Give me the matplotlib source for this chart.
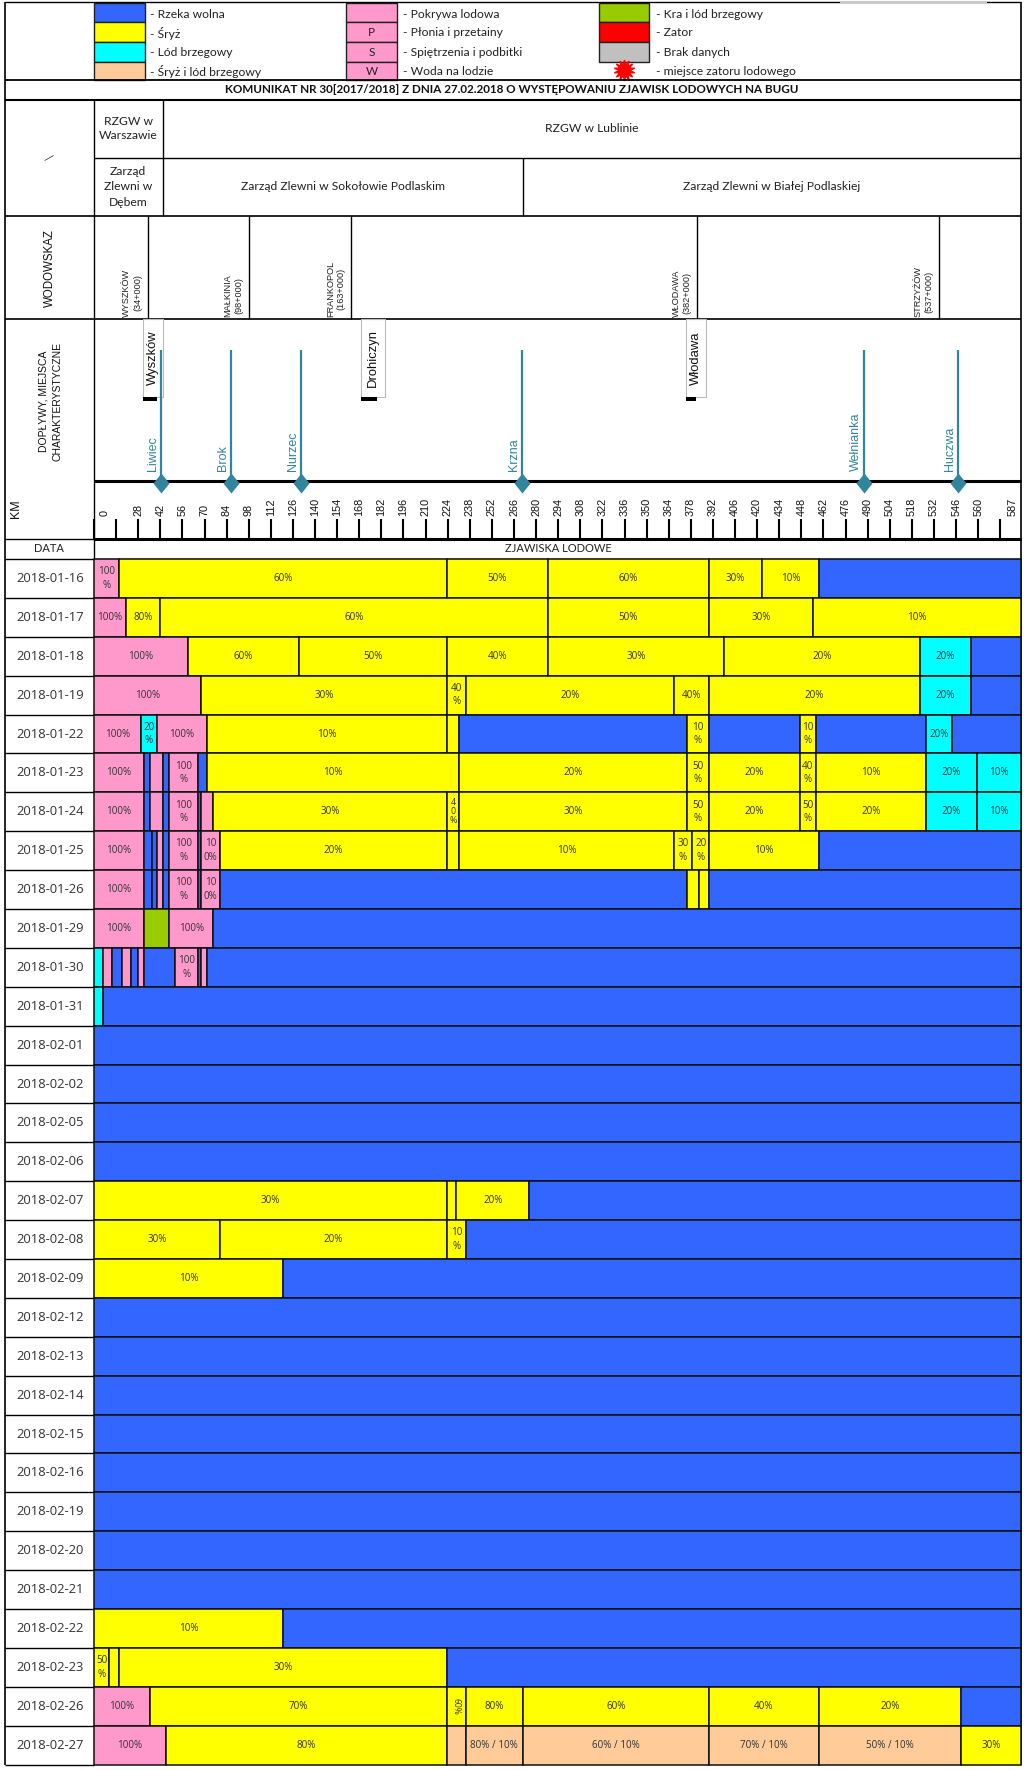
import matplotlib
matplotlib.use('Agg')
import matplotlib.pyplot as plt
from matplotlib.patches import Rectangle

##############################
#    data
##############################
dates = ['2018-01-16', '2018-01-17', '2018-01-18', '2018-01-19', '2018-01-22', '2018-01-23',
         '2018-01-24', '2018-01-25', '2018-01-26', '2018-01-29', '2018-01-30', '2018-01-31',
         '2018-02-01', '2018-02-02', '2018-02-05', '2018-02-06', '2018-02-07', '2018-02-08',
         '2018-02-09', '2018-02-12', '2018-02-13', '2018-02-14', '2018-02-15', '2018-02-16',
         '2018-02-19', '2018-02-20', '2018-02-21', '2018-02-22', '2018-02-23', '2018-02-26',
         '2018-02-27']

# end of every river stretch in km, one list per date
row_ends = [
    [15.8, 223.6, 287.3, 389.5, 423.2, 459, 587],
    [20.3, 41.8, 287.3, 389.5, 455.5, 587],
    [59.3, 129.6, 223.6, 287.3, 399.2, 522.9, 555.2, 587],
    [67.8, 223.6, 235.6, 367.1, 389.5, 522.9, 555.2, 587],
    [30, 39.7, 71.4, 223.6, 231.4, 375.4, 389.5, 447, 457.1, 527.1, 543.4, 587],
    [31.7, 35.7, 43.7, 47.7, 65.7, 71.4, 231.4, 375.4, 389.5, 447, 457.1, 527.1, 559.2, 587],
    [31.7, 35.7, 43.7, 47.7, 65.7, 68, 75.6, 223.6, 231.4, 375.4, 389.5, 447, 457.1, 527.1, 559.2, 587],
    [31.7, 36.7, 39.7, 43.7, 47.7, 65.7, 68, 79.8, 223.6, 231.4, 367.1, 378.9, 389.5, 459, 587],
    [31.7, 36.7, 39.7, 43.7, 47.7, 65.7, 68, 79.8, 375.4, 383.2, 389.5, 587],
    [31.7, 47.7, 75.6, 587],
    [5.9, 11.6, 17.7, 23.4, 27.7, 31.7, 51.3, 65.7, 68, 71.4, 587],
    [5.9, 587],
    [587], [587], [587], [587],
    [223.6, 229.3, 275.7, 587],
    [79.8, 223.6, 235.4, 587],
    [119.6, 587],
    [587], [587], [587], [587], [587], [587], [587], [587],
    [119.6, 587],
    [9.5, 15.6, 223.6, 587],
    [35.5, 223.6, 235.4, 271.5, 389.5, 459, 549.1, 587],
    [45.4, 223.6, 235.4, 271.5, 389.5, 459, 549.1, 587],
]

# w rzeka wolna, s sryz, b lod brzegowy, x sryz i lod, p pokrywa, k kra
row_kinds = [
    'psssssw', 'pssss' + 's', 'psssssbw', 'psssssbw', 'pbpsswswswbw', 'pwpwpwssssssbb',
    'pwpwpwpsssssssbb', 'pwwpwpwpssssssw', 'pwwpwpwpwssw', 'pkpw', 'bpwpwpwpwpw', 'bw',
    'w', 'w', 'w', 'w', 'sssw', 'sssw', 'sw',
    'w', 'w', 'w', 'w', 'w', 'w', 'w', 'w',
    'sw', 'sssw', 'pssssssw', 'psxxxxxs',
]

row_labels = [
    ['100\n%', '60%', '50%', '60%', '30%', '10%', ''],
    ['100%', '80%', '60%', '50%', '30%', '10%'],
    ['100%', '60%', '50%', '40%', '30%', '20%', '20%', ''],
    ['100%', '30%', '40\n%', '20%', '40%', '20%', '20%', ''],
    ['100%', '20\n%', '100%', '10%', '', '', '10\n%', '', '10\n%', '', '20%', ''],
    ['100%', '', '', '', '100\n%', '', '10%', '20%', '50\n%', '20%', '40\n%', '10%', '20%', '10%'],
    ['100%', '', '', '', '100\n%', '', '', '30%', '4\n0\n%', '30%', '50\n%', '20%', '50\n%', '20%', '20%', '10%'],
    ['100%', '', '', '', '', '100\n%', '', '10\n0%', '20%', '', '10%', '30\n%', '20\n%', '10%', ''],
    ['100%', '', '', '', '', '100\n%', '', '10\n0%', '', '', '', ''],
    ['100%', '', '100%', ''],
    ['', '', '', '', '', '', '', '100\n%', '', '', ''],
    ['', ''],
    [''], [''], [''], [''],
    ['30%', '', '20%', ''],
    ['30%', '20%', '10\n%', ''],
    ['10%', ''],
    [''], [''], [''], [''], [''], [''], [''], [''],
    ['10%', ''],
    ['50\n%', '', '30%', ''],
    ['100%', '70%', '60%', '80%', '60%', '40%', '20%', ''],
    ['100%', '80%', '', '80% / 10%', '60% / 10%', '70% / 10%', '50% / 10%', '30%'],
]

kind_colors = {'w': '#3366FF', 's': '#FFFF00', 'b': '#00FFFF', 'x': '#FFCC99',
               'p': '#FF99CC', 'k': '#99CC00', 'r': '#FF0000', 'g': '#C0C0C0'}

gauge_names = ['WYSZKÓW\n(34+000)', 'MAŁKINIA\n(98+000)', 'FRANKOPOL\n(163+000)',
               'WŁODAWA\n(382+000)', 'STRZYŻÓW\n(537+000)']
gauge_km = [34, 98, 163, 382, 535]

place_names = ['Wyszków', 'Drohiczyn', 'Włodawa']
place_start = [31, 169, 375]
place_end = [43.7, 184.3, 387.6]
place_mark = [40, 179, 381]

river_names = ['Liwiec', 'Brok', 'Nurzec', 'Krzna', 'Wełnianka', 'Huczwa']
river_km = [42.3, 87, 131.3, 271.2, 487.7, 547.2]

km_ticks = list(range(14, 575, 14))
km_labels = ['0'] + [str(k) for k in range(28, 561, 14)] + ['587']
km_label_pos = [7] + list(range(28, 561, 14)) + [582]

legend_col1 = ['- Rzeka wolna', '- Śryż', '- Lód brzegowy', '- Śryż i lód brzegowy']
legend_col2 = ['- Pokrywa lodowa', '- Płonia i przetainy', '- Spiętrzenia i podbitki', '- Woda na lodzie']
legend_col3 = ['- Kra i lód brzegowy', '- Zator', '- Brak danych', '- miejsce zatoru lodowego']


def km(px):
    return (px - 94) / 1.579


plt.rcParams['font.family'] = ['Open Sans', 'DejaVu Sans']
fig = plt.figure(figsize=(10.24, 17.7), dpi=100)
ax = fig.add_axes([0, 0, 1, 1])
ax.set_xlim(km(0), km(1024))
ax.set_ylim(1770, 0)
ax.axis('off')

left, right = km(5), 587
col1 = 0
row_top, row_h = 559, 38.89

##############################
#    legend
##############################
leg_y = [2.7, 21.7, 41.7, 61.7, 80]
leg_mid = [14, 33, 52.7, 71.8]
swatch_x = [(km(93.5), km(144.5)), (km(346.4), km(396.7)), (km(598.6), km(649))]
swatch_kinds = [['w', 's', 'b', 'x'], ['p', 'p', 'p', 'p'], ['k', 'r', 'g', None]]
swatch_text = [['', '', '', ''], ['', 'P', 'S', 'W'], ['', '', '', '']]
text_x = [km(150.3), km(403), km(655.5)]
legend_cols = [legend_col1, legend_col2, legend_col3]
for c in range(3):
    x0, x1 = swatch_x[c]
    for r in range(4):
        kind = swatch_kinds[c][r]
        if kind is not None:
            ax.add_patch(Rectangle((x0, leg_y[r]), x1 - x0, leg_y[r + 1] - leg_y[r],
                                   facecolor=kind_colors[kind], edgecolor='#222222', lw=1))
            ax.text((x0 + x1) / 2, leg_mid[r], swatch_text[c][r], ha='center', va='center',
                    fontsize=8.5, family='Lato', color='#222222')
        ax.text(text_x[c], leg_mid[r], legend_cols[c][r], ha='left', va='center',
                fontsize=8.7, family='Lato', color='#222222')
ax.plot([km(624)], [70], marker=(14, 1, 0), markersize=15, color='#FF0000', ls='none')

##############################
#    header tables
##############################
for y, lw in [(2, 1), (80, 1.3), (99.5, 1.5), (216, 1.2), (319, 1.2), (539.3, 1), (559, 1)]:
    ax.hlines(y, left, right, color='black', lw=lw)
ax.hlines(157.7, 0, right, color='black', lw=1)
ax.vlines(left, 2, 1765, color='black', lw=1.2)
ax.vlines(right, 2, 1765, color='black', lw=1.2)
ax.vlines(0, 99.5, 559, color='black', lw=1)
ax.vlines(km(163.4), 99.5, 216, color='black', lw=1)
ax.vlines(km(522.8), 157.7, 216, color='black', lw=1)
ax.hlines(1.5, km(840), km(987), color='#C8C8C8', lw=1.5)

ax.text(km(512), 89.5, 'KOMUNIKAT NR 30[2017/2018] Z DNIA 27.02.2018 O WYSTĘPOWANIU ZJAWISK LODOWYCH NA BUGU',
        ha='center', va='center', fontsize=8.4, family='Lato', weight='bold', color='#111111')
ax.text(km(128), 128.5, 'RZGW w\nWarszawie', ha='center', va='center', fontsize=8.7, family='Lato',
        linespacing=1.4, color='#222222')
ax.text(km(592), 129, 'RZGW w Lublinie', ha='center', va='center', fontsize=8.7, family='Lato', color='#222222')
ax.text(km(128), 187, 'Zarząd\nZlewni w\nDębem', ha='center', va='center', fontsize=8.7, family='Lato',
        linespacing=1.45, color='#222222')
ax.text(km(342.5), 187, 'Zarząd Zlewni w Sokołowie Podlaskim', ha='center', va='center', fontsize=8.7,
        family='Lato', color='#222222')
ax.text(km(772), 187, 'Zarząd Zlewni w Białej Podlaskiej', ha='center', va='center', fontsize=8.7,
        family='Lato', color='#222222')
ax.text(km(49), 157.5, '—', ha='center', va='center', fontsize=8, rotation=30, color='#222222')

ax.text(km(50), 268, 'WODOWSKAZ', rotation=90, ha='center', va='center', fontsize=8.3,
        family='Liberation Sans', color='#111111')
ax.text(km(50.6), 401.7, 'DOPŁYWY, MIEJSCA\nCHARAKTERYSTYCZNE', rotation=90, ha='center', va='center',
        fontsize=7.5, family='Liberation Sans', multialignment='center', linespacing=1.45, color='#111111')
ax.text(km(16.3), 509, 'KM', rotation=90, ha='center', va='center', fontsize=9,
        family='Liberation Sans', color='#111111')
ax.text(km(49), 549, 'DATA', ha='center', va='center', fontsize=8, family='Lato', color='#222222')
ax.text(km(558), 549, 'ZJAWISKA LODOWE', ha='center', va='center', fontsize=8, family='Lato', color='#222222')

# wodowskazy
ax.vlines(gauge_km, 216, 319, color='black', lw=1)
for name, g in zip(gauge_names, gauge_km):
    ax.text(g - 3.5, 317, name, rotation=90, ha='right', va='bottom', multialignment='center',
            fontsize=6.6, family='Liberation Sans', linespacing=1.3, color='#222222')

# miejsca charakterystyczne
for name, s, e, m in zip(place_names, place_start, place_end, place_mark):
    ax.add_patch(Rectangle((s, 319), e - s, 78.3, facecolor='white', edgecolor='#BBBBBB', lw=0.8, zorder=2))
    ax.add_patch(Rectangle((s, 397), m - s, 4, facecolor='black', edgecolor='none', zorder=3))
    ax.text((s + e) / 2, 358, name, rotation=90, ha='center', va='center', fontsize=9.4,
            family='Liberation Sans', color='#111111', zorder=3)

# dopływy
river_color = '#31859C'
ax.hlines(481, 0, right, color='black', lw=2.2, zorder=3)
diamond = [(0, 1), (0.8, 0), (0, -1), (-0.8, 0), (0, 1)]
ax.vlines(river_km, 350, 482, color=river_color, lw=1.6, zorder=4)
ax.plot(river_km, [482.7] * len(river_km), ls='none', marker=diamond, markersize=14.4,
        color=river_color, markeredgewidth=0, zorder=5)
for name, r in zip(river_names, river_km):
    ax.text(r - 5, 471, name, rotation=90, ha='center', va='bottom', fontsize=9,
            family='Liberation Sans', color=river_color, zorder=4)

# km scale
ax.hlines(539.3, 0, right, color='black', lw=2.2)
ax.vlines(km_ticks, 519, 539, color='black', lw=1.5)
ax.vlines(0, 519, 539, color='black', lw=1.5)
for lab, p in zip(km_labels, km_label_pos):
    ax.text(p, 516, lab, rotation=90, ha='center', va='bottom', fontsize=7.8,
            family='Liberation Sans', color='#111111')

##############################
#    ice rows
##############################
for i, date in enumerate(dates):
    y = row_top + row_h * (i + 0.5)
    ends = row_ends[i]
    lefts = [0] + ends[:-1]
    widths = [e - l for e, l in zip(ends, lefts)]
    colors = [kind_colors[k] for k in row_kinds[i]]
    ax.barh(y, widths, left=lefts, height=row_h, color=colors, edgecolor='#101010', linewidth=1.1, zorder=2)
    ax.hlines(y + row_h / 2, left, 0, color='black', lw=1)
    ax.text(km(50), y, date, ha='center', va='center', fontsize=9.4, color='#333333')
    for lab, l, w in zip(row_labels[i], lefts, widths):
        if lab == '':
            continue
        if lab.count('\n') == 2:
            ax.text(l + w / 2, y, lab, ha='center', va='center', fontsize=6.4, linespacing=1.0,
                    color='#333333', zorder=3)
        elif w < 12.5 and '\n' not in lab:
            ax.text(l + w / 2, y, lab, ha='center', va='center', fontsize=6.2, rotation=270,
                    color='#333333', zorder=3)
        else:
            ax.text(l + w / 2, y, lab, ha='center', va='center', fontsize=7.1, linespacing=1.3,
                    color='#333333', zorder=3)

fig.savefig('out.png', dpi=100)
